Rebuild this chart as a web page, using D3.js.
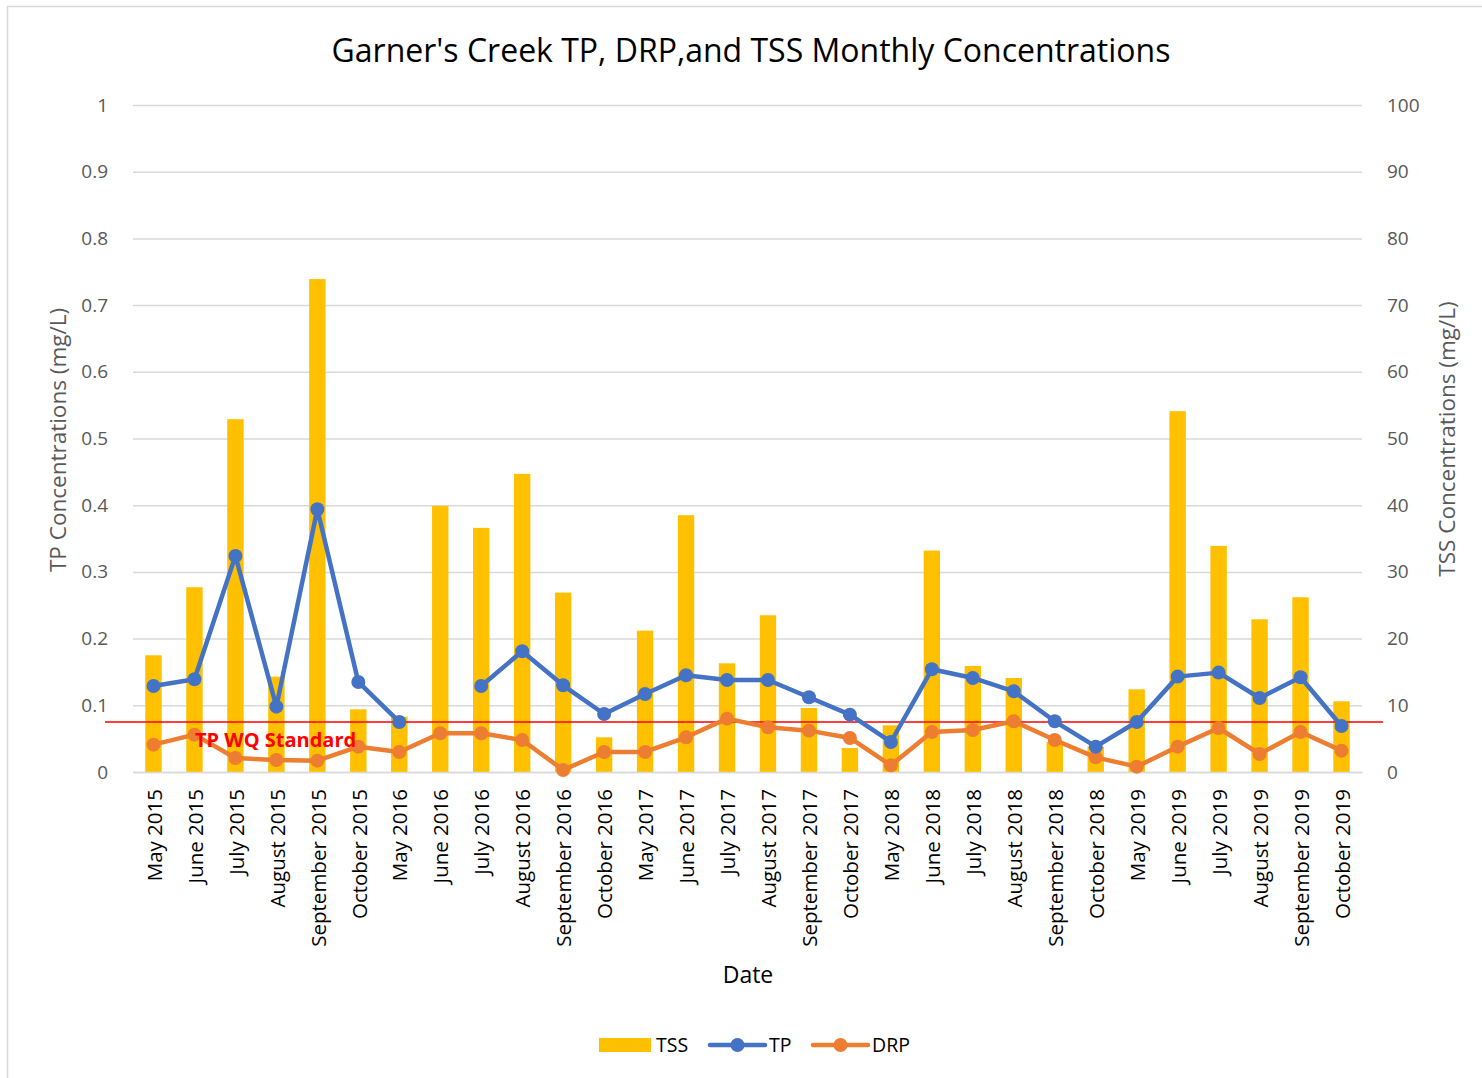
<!DOCTYPE html>
<html>
<head>
<meta charset="utf-8">
<script src="https://cdn.jsdelivr.net/npm/d3@7"></script>
<style>
  body { margin: 0; background: #fff; }
  text { font-family: "Open Sans", "Noto Sans", sans-serif; }
</style>
</head>
<body>
<div id="chart"></div>
<script>
const dates = ["May 2015","June 2015","July 2015","August 2015","September 2015","October 2015",
  "May 2016","June 2016","July 2016","August 2016","September 2016","October 2016",
  "May 2017","June 2017","July 2017","August 2017","September 2017","October 2017",
  "May 2018","June 2018","July 2018","August 2018","September 2018","October 2018",
  "May 2019","June 2019","July 2019","August 2019","September 2019","October 2019"]

const tss = [17.5, 27.7, 52.9, 14.3, 73.9, 9.4, 8.3, 39.9, 36.6, 44.7, 26.9, 5.2,
  21.2, 38.5, 16.3, 23.5, 9.6, 3.6, 7.0, 33.2, 15.9, 14.1, 4.5, 3.8,
  12.4, 54.1, 33.9, 22.9, 26.2, 10.6]

const tp = [0.129, 0.139, 0.324, 0.098, 0.394, 0.135, 0.075, null, 0.129, 0.181, 0.130, 0.087,
  0.117, 0.145, 0.138, 0.138, 0.112, 0.086, 0.045, 0.154, 0.141, 0.121, 0.076, 0.038,
  0.075, 0.143, 0.149, 0.111, 0.142, 0.069]

const drp = [0.041, 0.056, 0.021, 0.018, 0.017, 0.038, 0.030, 0.058, 0.058, 0.048, 0.003, 0.030,
  0.030, 0.052, 0.080, 0.067, 0.062, 0.051, 0.010, 0.060, 0.063, 0.076, 0.048, 0.022,
  0.008, 0.038, 0.066, 0.027, 0.060, 0.032]

const tpStandard = 0.075
const tpTicks = [0, 0.1, 0.2, 0.3, 0.4, 0.5, 0.6, 0.7, 0.8, 0.9, 1]
const tssTicks = [0, 10, 20, 30, 40, 50, 60, 70, 80, 90, 100]

const W = 1482, H = 1078
const MARGIN = {TOP: 105, BOTTOM: 306, LEFT: 133, RIGHT: 120}
const WIDTH = W - MARGIN.LEFT - MARGIN.RIGHT
const HEIGHT = H - MARGIN.TOP - MARGIN.BOTTOM

const BLUE = "#4472C4", ORANGE = "#ED7D31", GOLD = "#FFC000", GRID = "#D9D9D9", GREY = "#595959"

const root = d3.select("#chart").append("svg")
  .attr("width", W)
  .attr("height", H)

// chart area border
root.append("rect")
  .attr("x", 7.5).attr("y", 6.5)
  .attr("width", W).attr("height", H)
  .attr("fill", "none")
  .attr("stroke", "#D9D9D9")
  .attr("stroke-width", 1.5)

root.append("text")
  .attr("x", 751).attr("y", 62)
  .attr("text-anchor", "middle")
  .attr("font-size", 32)
  .attr("fill", "#000")
  .text("Garner's Creek TP, DRP,and TSS Monthly Concentrations")

const svg = root.append("g")
  .attr("transform", `translate(${MARGIN.LEFT}, ${MARGIN.TOP})`)

const x = d3.scaleBand()
  .domain(dates)
  .range([0, WIDTH])
  .paddingInner(0.6)
  .paddingOuter(0.3)

const cx = d => x(d) + x.bandwidth() / 2

const yTP = d3.scaleLinear().domain([0, 1]).range([HEIGHT, 0])
const yTSS = d3.scaleLinear().domain([0, 100]).range([HEIGHT, 0])

// gridlines
svg.append("g")
  .call(d3.axisLeft(yTP).tickValues(tpTicks).tickSize(-WIDTH).tickFormat(""))
  .call(g => g.select(".domain").remove())
  .call(g => g.selectAll("line").attr("stroke", GRID).attr("stroke-width", 1.5))

// left axis labels
svg.append("g")
  .attr("transform", "translate(-22,0)")
  .call(d3.axisLeft(yTP).tickValues(tpTicks).tickSize(0).tickFormat(d => d3.format("")(+d.toFixed(1))))
  .call(g => g.select(".domain").remove())
  .call(g => g.selectAll("text").attr("font-size", 19).attr("fill", GREY).attr("font-family", "Open Sans"))

// right axis labels
svg.append("g")
  .attr("transform", `translate(${WIDTH + 22},0)`)
  .call(d3.axisRight(yTSS).tickValues(tssTicks).tickSize(0))
  .call(g => g.select(".domain").remove())
  .call(g => g.selectAll("text").attr("font-size", 19).attr("fill", GREY).attr("font-family", "Open Sans"))

// bars
svg.selectAll("rect.tss")
  .data(dates)
  .enter().append("rect")
  .attr("class", "tss")
  .attr("x", d => x(d))
  .attr("y", (d, i) => yTSS(tss[i]))
  .attr("width", x.bandwidth())
  .attr("height", (d, i) => HEIGHT - yTSS(tss[i]))
  .attr("fill", GOLD)

// bottom axis
svg.append("g")
  .attr("transform", `translate(0,${HEIGHT})`)
  .call(d3.axisBottom(x).tickSize(0).tickPadding(0))
  .call(g => g.select(".domain").attr("stroke", GRID).attr("stroke-width", 1.5))
  .call(g => g.selectAll("text")
    .attr("font-size", 20.5)
    .attr("fill", "#000")
    .attr("font-family", "Open Sans")
    .attr("text-anchor", "end")
    .attr("dy", "0.35em")
    .attr("transform", "translate(1,17) rotate(-90)")
    .attr("x", 0).attr("y", 0))

// TP standard line
svg.append("line")
  .attr("x1", -28).attr("x2", WIDTH + 21)
  .attr("y1", yTP(tpStandard)).attr("y2", yTP(tpStandard))
  .attr("stroke", "#FF0000")
  .attr("stroke-width", 1.3)

const series = [
  {name: "TP", values: tp, color: BLUE},
  {name: "DRP", values: drp, color: ORANGE}
]

// DRP drawn first, then TP on top of it
series.slice().reverse().forEach(s => {
  const line = d3.line()
    .defined(d => d[1] !== null)
    .x(d => cx(d[0]))
    .y(d => yTP(d[1]))
  const pts = dates.map((d, i) => [d, s.values[i]])
  svg.append("path")
    .datum(pts)
    .attr("fill", "none")
    .attr("stroke", s.color)
    .attr("stroke-width", 4.5)
    .attr("stroke-linejoin", "round")
    .attr("d", line)
  svg.append("g").selectAll("circle")
    .data(pts.filter(p => p[1] !== null))
    .enter().append("circle")
    .attr("cx", p => cx(p[0]))
    .attr("cy", p => yTP(p[1]))
    .attr("r", 7)
    .attr("fill", s.color)
})

svg.append("text")
  .attr("x", 62).attr("y", yTP(tpStandard) + 25)
  .attr("font-size", 20)
  .attr("font-weight", "bold")
  .attr("fill", "#FF0000")
  .text("TP WQ Standard")

// axis titles
root.append("text")
  .attr("transform", "translate(66,440) rotate(-90)")
  .attr("text-anchor", "middle")
  .attr("font-size", 22.5)
  .attr("fill", GREY)
  .text("TP Concentrations (mg/L)")

root.append("text")
  .attr("transform", "translate(1455,439) rotate(-90)")
  .attr("text-anchor", "middle")
  .attr("font-size", 22.5)
  .attr("fill", GREY)
  .text("TSS Concentrations (mg/L)")

root.append("text")
  .attr("x", 748).attr("y", 983)
  .attr("text-anchor", "middle")
  .attr("font-size", 23)
  .attr("fill", "#000")
  .text("Date")

// legend
const legend = root.append("g").attr("transform", "translate(599,1045)")
legend.append("rect").attr("x", 0).attr("y", -7).attr("width", 52).attr("height", 14).attr("fill", GOLD)
legend.append("text").attr("x", 57).attr("y", 7).attr("font-size", 19.5).text("TSS")
const legItems = [{s: series[0], x0: 111, tx: 170}, {s: series[1], x0: 214, tx: 273}]
legItems.forEach(it => {
  legend.append("line").attr("x1", it.x0).attr("x2", it.x0 + 55).attr("y1", 0).attr("y2", 0)
    .attr("stroke", it.s.color).attr("stroke-width", 4.5).attr("stroke-linecap", "round")
  legend.append("circle").attr("cx", it.x0 + 27.5).attr("cy", 0).attr("r", 7).attr("fill", it.s.color)
  legend.append("text").attr("x", it.tx).attr("y", 7).attr("font-size", 19.5).text(it.s.name)
})
</script>
</body>
</html>
